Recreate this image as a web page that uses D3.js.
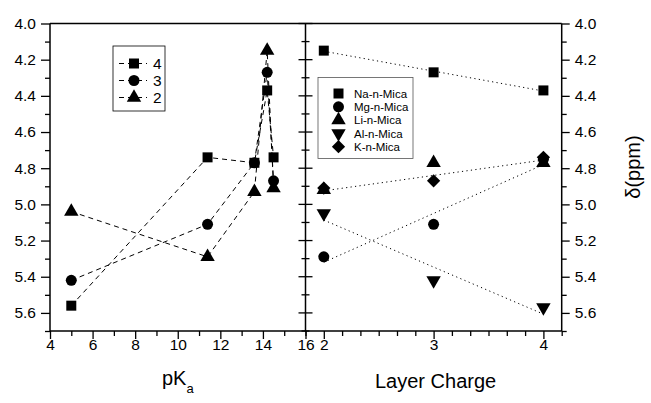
<!DOCTYPE html>
<html><head><meta charset="utf-8">
<script src="https://cdn.jsdelivr.net/npm/d3@7"></script>
<style>
html,body{margin:0;padding:0;background:#fff;}
svg{display:block;font-family:"Liberation Sans",Arial,sans-serif;}
</style></head>
<body>
<svg id="c" width="651" height="403"></svg>
<script>
// ---------- data ----------
// left panel: delta vs pKa for n = 4, 3, 2
const pkaSeriesNames = ["4", "3", "2"];
const pkaSymbols = ["square", "circle", "triangle"];
const pka4x = [5, 11.4, 13.6, 14.2, 14.5];
const pka4y = [5.56, 4.74, 4.77, 4.37, 4.74];
const pka3x = [5, 11.4, 13.6, 14.2, 14.5];
const pka3y = [5.42, 5.11, 4.77, 4.27, 4.87];
const pka2x = [5, 11.4, 13.6, 14.2, 14.5];
const pka2y = [5.04, 5.29, 4.93, 4.15, 4.91];

// right panel: delta vs layer charge
const layerCharge = [2, 3, 4];
const micaNames = ["Na-n-Mica", "Mg-n-Mica", "Li-n-Mica", "Al-n-Mica", "K-n-Mica"];
const micaSymbols = ["square", "circle", "triangle", "triangleDown", "diamond"];
const naMica = [4.15, 4.27, 4.37];
const mgMica = [5.29, 5.11, 4.75];
const liMica = [4.92, 4.77, 4.77];
const alMica = [5.05, 5.42, 5.57];
const kMica  = [4.91, 4.87, 4.74];
const micaFitted = [true, true, false, true, true];

// axis ticks
const yTicks = [4.0, 4.2, 4.4, 4.6, 4.8, 5.0, 5.2, 5.4, 5.6];
const pkaTicks = [4, 6, 8, 10, 12, 14, 16];
const chargeTicks = [2, 3, 4];

// ---------- layout ----------
const svg = d3.select("#c");
const yTop = 23.5, yBot = 331;
const xL0 = 50, xMid = 305.5, xR1 = 561.7;

const y = d3.scaleLinear().domain([4.0, 5.7]).range([yTop, yBot]);
const xL = d3.scaleLinear().domain([4, 16]).range([xL0, xMid]);
const xR = d3.scaleLinear().domain([2 - 1/6, 4 + 1/6]).range([xMid, xR1]);

const symMap = {
  square: {t: d3.symbolSquare, s: 100},
  circle: {t: d3.symbolCircle, s: 95},
  triangle: {t: d3.symbolTriangle, s: 90},
  triangleDown: {t: d3.symbolTriangle, s: 90, rot: 180},
  diamond: {t: d3.symbolSquare, s: 88, rot: 45}
};
function drawSym(g, name, cx, cy) {
  const m = symMap[name];
  g.append("path")
    .attr("d", d3.symbol().type(m.t).size(m.s)())
    .attr("transform", `translate(${cx},${cy})` + (m.rot ? ` rotate(${m.rot})` : ""))
    .attr("fill", "#000");
}

const fontTick = "15.5px";
const FF = "Liberation Sans, Arial, sans-serif";

// ---------- axes ----------
const minorY = d3.range(0, 9).map(i => 4.1 + i * 0.2);
const ax = svg.append("g").attr("stroke", "#000").attr("fill", "none");

// frame lines
ax.append("line").attr("x1", xL0).attr("x2", xR1).attr("y1", yTop).attr("y2", yTop).attr("stroke-width", 1.5);
ax.append("line").attr("x1", xL0).attr("x2", xR1).attr("y1", yBot).attr("y2", yBot).attr("stroke-width", 1.5);
ax.append("line").attr("x1", xL0).attr("x2", xL0).attr("y1", yTop).attr("y2", yBot).attr("stroke-width", 1.5);
ax.append("line").attr("x1", xMid).attr("x2", xMid).attr("y1", yTop).attr("y2", yBot).attr("stroke-width", 1.5);
ax.append("line").attr("x1", xR1).attr("x2", xR1).attr("y1", yTop).attr("y2", yBot).attr("stroke-width", 1.5);

// left y axis
const leftAxis = d3.axisLeft(y).tickValues(yTicks).tickFormat(d3.format(".1f")).tickSizeInner(9).tickSizeOuter(0).tickPadding(5);
const gLA = svg.append("g").attr("transform", `translate(${xL0},0)`).call(leftAxis);
gLA.select(".domain").remove();
gLA.selectAll("text").attr("font-size", fontTick).attr("font-family", FF);
gLA.selectAll("line").attr("stroke-width", 1.3);
svg.append("g").attr("transform", `translate(${xL0},0)`)
  .call(d3.axisLeft(y).tickValues(minorY).tickSize(5).tickFormat(""))
  .call(g => g.select(".domain").remove()).selectAll("line").attr("stroke-width", 1.3);

// right y axis
const rightAxis = d3.axisRight(y).tickValues(yTicks).tickFormat(d3.format(".1f")).tickSizeInner(8).tickSizeOuter(0).tickPadding(5);
const gRA = svg.append("g").attr("transform", `translate(${xR1},0)`).call(rightAxis);
gRA.select(".domain").remove();
gRA.selectAll("text").attr("font-size", fontTick).attr("font-family", FF);
gRA.selectAll("line").attr("stroke-width", 1.3);
svg.append("g").attr("transform", `translate(${xR1},0)`)
  .call(d3.axisRight(y).tickValues(minorY).tickSize(5).tickFormat(""))
  .call(g => g.select(".domain").remove()).selectAll("line").attr("stroke-width", 1.3);

// middle axis ticks (both directions)
[[yTicks, 7], [minorY, 4]].forEach(([vals, len]) => {
  svg.append("g").selectAll("line").data(vals).join("line")
    .attr("x1", xMid - len).attr("x2", xMid + len)
    .attr("y1", d => y(d)).attr("y2", d => y(d))
    .attr("stroke", "#000").attr("stroke-width", 1.3);
});

// bottom axis left panel
const gBL = svg.append("g").attr("transform", `translate(0,${yBot})`)
  .call(d3.axisBottom(xL).tickValues(pkaTicks).tickFormat(d3.format("d")).tickSizeInner(8).tickSizeOuter(0).tickPadding(0));
gBL.select(".domain").remove();
gBL.selectAll("text").attr("font-size", fontTick).attr("font-family", FF);
gBL.selectAll("line").attr("stroke-width", 1.3);
svg.append("g").attr("transform", `translate(0,${yBot})`)
  .call(d3.axisBottom(xL).tickValues(d3.range(5, 16, 2)).tickSize(5).tickFormat(""))
  .call(g => g.select(".domain").remove()).selectAll("line").attr("stroke-width", 1.3);

// bottom axis right panel
const gBR = svg.append("g").attr("transform", `translate(0,${yBot})`)
  .call(d3.axisBottom(xR).tickValues(chargeTicks).tickFormat(d3.format("d")).tickSizeInner(8).tickSizeOuter(0).tickPadding(0));
gBR.select(".domain").remove();
gBR.selectAll("text").attr("font-size", fontTick).attr("font-family", FF);
gBR.selectAll("line").attr("stroke-width", 1.3);
const minorCharge = d3.range(0, 15).map(i => 2 - 1/6 + i/6).filter(v => Math.abs(v - Math.round(v)) > 1e-6);
svg.append("g").attr("transform", `translate(0,${yBot})`)
  .call(d3.axisBottom(xR).tickValues(minorCharge).tickSize(5).tickFormat(""))
  .call(g => g.select(".domain").remove()).selectAll("line").attr("stroke-width", 1.3);

// axis titles
const lab = svg.append("g").attr("fill", "#000").attr("font-family", FF);
const pk = lab.append("text").attr("x", 162).attr("y", 385).attr("font-size", "20px");
pk.append("tspan").text("pK");
pk.append("tspan").attr("font-size", "13px").attr("dy", 8).text("a");
lab.append("text").attr("x", (xMid + xR1) / 2 + 2).attr("y", 388).attr("font-size", "20px")
  .attr("text-anchor", "middle").text("Layer Charge");
lab.append("text").attr("transform", "translate(640,167) rotate(-90)")
  .attr("font-size", "20px").attr("text-anchor", "middle").text("δ(ppm)");

// ---------- left panel data ----------
const pkaXs = [pka4x, pka3x, pka2x];
const pkaYs = [pka4y, pka3y, pka2y];
const gl = svg.append("g");
const line = d3.line();
pkaXs.forEach((xs, i) => {
  const pts = xs.map((v, j) => [xL(v), y(pkaYs[i][j])]);
  gl.append("path").attr("d", line(pts)).attr("fill", "none")
    .attr("stroke", "#000").attr("stroke-width", 1).attr("stroke-dasharray", "5,4");
});
pkaXs.forEach((xs, i) => {
  xs.forEach((v, j) => drawSym(gl, pkaSymbols[i], xL(v), y(pkaYs[i][j])));
});

// left legend
const lg = svg.append("g");
lg.append("rect").attr("x", 113).attr("y", 46).attr("width", 52).attr("height", 65)
  .attr("fill", "#fff").attr("stroke", "#000").attr("stroke-width", 0.8);
pkaSeriesNames.forEach((n, i) => {
  const yy = 63.5 + i * 17;
  lg.append("line").attr("x1", 119).attr("x2", 147).attr("y1", yy).attr("y2", yy)
    .attr("stroke", "#000").attr("stroke-width", 1).attr("stroke-dasharray", "5,4");
  drawSym(lg, pkaSymbols[i], 134, yy);
  lg.append("text").attr("x", 153).attr("y", yy).attr("dy", "0.36em")
    .attr("font-size", "15.5px").attr("font-family", FF).text(n);
});

// ---------- right panel data ----------
const micaYs = [naMica, mgMica, liMica, alMica, kMica];
const gr = svg.append("g");
micaYs.forEach((ys, i) => {
  if (!micaFitted[i]) return;
  const mx = d3.mean(layerCharge), my = d3.mean(ys);
  const slope = d3.sum(layerCharge.map((c, j) => (c - mx) * (ys[j] - my))) /
                d3.sum(layerCharge.map(c => (c - mx) ** 2));
  const f = c => my + slope * (c - mx);
  const c0 = d3.min(layerCharge), c1 = d3.max(layerCharge);
  gr.append("line").attr("x1", xR(c0)).attr("y1", y(f(c0))).attr("x2", xR(c1)).attr("y2", y(f(c1)))
    .attr("stroke", "#000").attr("stroke-width", 1).attr("stroke-dasharray", "1.2,3.3");
});
micaYs.forEach((ys, i) => {
  ys.forEach((v, j) => drawSym(gr, micaSymbols[i], xR(layerCharge[j]), y(v)));
});

// right legend
const rg = svg.append("g");
rg.append("rect").attr("x", 318).attr("y", 77.5).attr("width", 95).attr("height", 81)
  .attr("fill", "#fff").attr("stroke", "#555").attr("stroke-width", 0.8);
micaNames.forEach((n, i) => {
  const yy = 93.5 + i * 13.3;
  drawSym(rg, micaSymbols[i], 338.5, yy);
  rg.append("text").attr("x", 354).attr("y", yy).attr("dy", "0.36em")
    .attr("font-size", "11.5px").attr("font-family", FF).text(n);
});
</script>
</body></html>
